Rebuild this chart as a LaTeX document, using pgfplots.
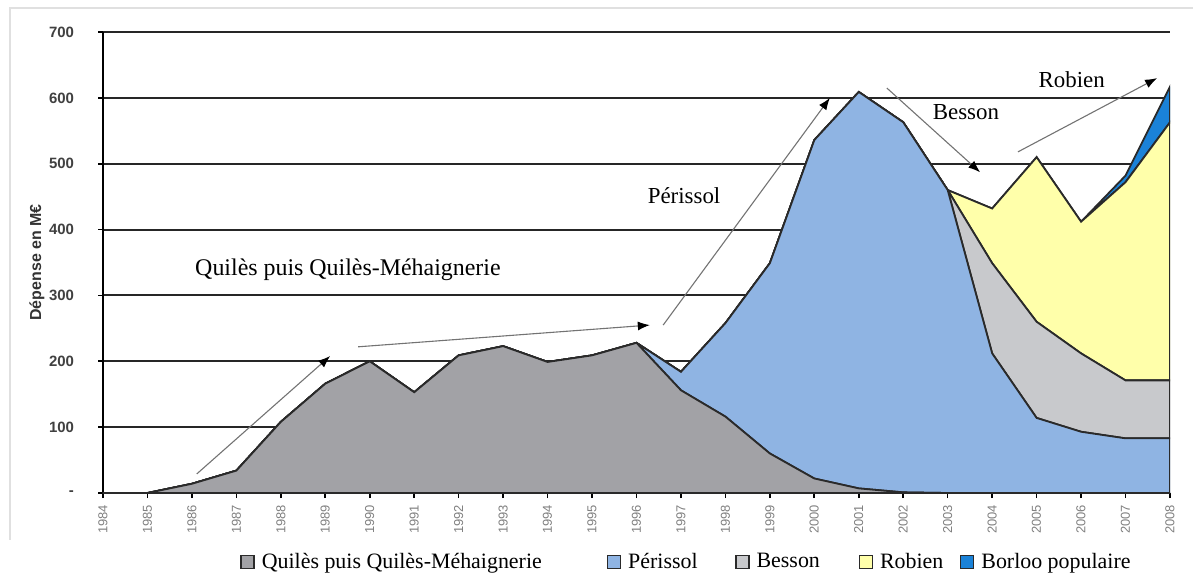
\documentclass[border=0pt]{standalone}
\usepackage{fontspec}
\setmainfont{Liberation Serif}
\setsansfont{Liberation Sans}
\usepackage{pgfplots}
\pgfplotsset{compat=1.18}
\usepackage{pgfplotstable}
\usetikzlibrary{arrows.meta}
\definecolor{cQ}{HTML}{A2A2A6}
\definecolor{cP}{HTML}{8FB4E3}
\definecolor{cB}{HTML}{C8C9CC}
\definecolor{cR}{HTML}{FFFFAA}
\definecolor{cBo}{HTML}{1A82D8}
\definecolor{edge}{HTML}{2A2A2A}

\pgfplotstableread{
year Q P B R Bo
1984 0 0 0 0 0
1985 0 0 0 0 0
1986 14 0 0 0 0
1987 34 0 0 0 0
1988 108 0 0 0 0
1989 166 0 0 0 0
1990 200 0 0 0 0
1991 153 0 0 0 0
1992 209 0 0 0 0
1993 223 0 0 0 0
1994 199 0 0 0 0
1995 209 0 0 0 0
1996 228 0 0 0 0
1997 156 28 0 0 0
1998 116 142 0 0 0
1999 60 289 0 0 0
2000 22 514 0 0 0
2001 7 602 0 0 0
2002 1 562 0 0 0
2003 0 460 0 0 0
2004 0 212 137 83 0
2005 0 114 146 250 0
2006 0 93 119 200 0
2007 0 83 88 301 10
2008 0 83 88 392 54
}\data

\begin{document}
\begin{tikzpicture}
\useasboundingbox (-51.5bp,-42bp) rectangle (545bp,246.5bp);
\begin{axis}[
  at={(0,0)}, anchor=south west,
  scale only axis, width=533.5bp, height=230.5bp,
  xmin=1984, xmax=2008, ymin=0, ymax=700,
  axis x line*=bottom, axis y line*=left,
  axis line style={black, line width=1bp},
  xtick={1984,...,2008}, ytick={0,100,...,700},
  yticklabels={-,100,200,300,400,500,600,700},
  /pgf/number format/1000 sep={},
  /pgf/number format/assume math mode=true,
  tick align=outside, major tick length=2.5bp,
  tick style={black, line width=0.8bp},
  xticklabel style={rotate=90, anchor=east, font=\sffamily\fontsize{6.5}{7}\selectfont, text=black!50},
  yticklabel style={font=\sffamily\bfseries\fontsize{7.5}{8}\selectfont, text=black!75, xshift=-8.5bp},
  ymajorgrids, grid style={black!85, line width=1bp},
  ylabel={Dépense en M€},
  every axis y label/.style={at={(axis description cs:-0.0619,0.5)}, rotate=90, anchor=center, font=\sffamily\bfseries\fontsize{8}{9}\selectfont, text=black!80},
  stack plots=y,
  legend columns=5,
  legend style={draw=none, fill=none, at={(0.1284,-0.1497)}, anchor=west, inner sep=0pt, column sep=3.5bp, font=\fontsize{11}{13}\selectfont, nodes={inner sep=0pt}},
  legend image code/.code={\draw[#1, line width=0.7bp] (0bp,-3.25bp) rectangle (6.5bp,3.25bp);},
  legend cell align=left,
]
\addplot[draw=edge, line width=0.9bp, fill=cQ] table[x=year,y=Q]{\data} \closedcycle;
\addplot[draw=edge, line width=0.9bp, fill=cP] table[x=year,y=P]{\data} \closedcycle;
\addplot[draw=edge, line width=0.9bp, fill=cB] table[x=year,y=B]{\data} \closedcycle;
\addplot[draw=edge, line width=0.9bp, fill=cR] table[x=year,y=R]{\data} \closedcycle;
\addplot[draw=edge, line width=0.9bp, fill=cBo] table[x=year,y=Bo]{\data} \closedcycle;
\addlegendentry{\makebox[169bp][l]{Quilès puis Quilès-Méhaignerie}}
\addlegendentry{\makebox[50bp][l]{Périssol}}
\addlegendentry{\makebox[47.5bp][l]{Besson}}
\addlegendentry{\makebox[36.5bp][l]{Robien}}
\addlegendentry{Borloo populaire}

\draw[black!55, line width=0.55bp, -{Latex[black,length=6bp,width=4.5bp]}] (axis cs:1986.11,29) -- (axis cs:1989.11,208);
\draw[black!55, line width=0.55bp, -{Latex[black,length=6bp,width=4.5bp]}] (axis cs:1989.74,222) -- (axis cs:1996.30,255);
\draw[black!55, line width=0.55bp, -{Latex[black,length=6bp,width=4.5bp]}] (axis cs:1996.6,255) -- (axis cs:2000.35,600);
\draw[black!55, line width=0.55bp, -{Latex[black,length=6bp,width=4.5bp]}] (axis cs:2001.63,615) -- (axis cs:2003.73,487);
\draw[black!55, line width=0.55bp, -{Latex[black,length=6bp,width=4.5bp]}] (axis cs:2004.58,518) -- (axis cs:2007.71,630);

\node[font=\fontsize{12}{14}\selectfont] at (axis cs:1989.51,339) {Quilès puis Quilès-Méhaignerie};
\node[font=\fontsize{11.5}{13}\selectfont] at (axis cs:1997.07,452) {Périssol};
\node[font=\fontsize{11.5}{13}\selectfont] at (axis cs:2003.41,578) {Besson};
\node[font=\fontsize{11.5}{13}\selectfont] at (axis cs:2005.79,627) {Robien};
\end{axis}
\draw[black!12, line width=0.6bp] (-46.5bp,-23.5bp) -- (-46.5bp,242.5bp) -- (545bp,242.5bp);
\end{tikzpicture}
\end{document}
